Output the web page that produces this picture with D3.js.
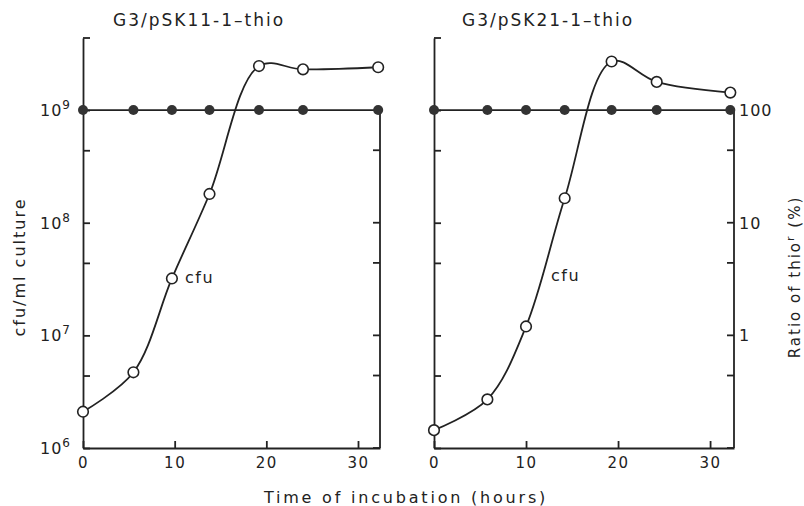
<!DOCTYPE html>
<html>
<head>
<meta charset="utf-8">
<script src="https://cdn.jsdelivr.net/npm/d3@7"></script>
<style>
  body { margin: 0; background: #fff; }
  text { font-family: "DejaVu Sans", sans-serif; fill: #222; }
</style>
</head>
<body>
<div id="chart"></div>
<script>
// data
var titles = ["G3/pSK11-1\u2013thio", "G3/pSK21-1\u2013thio"];

var hoursA = [0, 5.5, 9.7, 13.8, 19.2, 24.0, 32.2];
var cfuA = [2.1e6, 4.7e6, 3.2e7, 1.8e8, 2.46e9, 2.3e9, 2.4e9];
var ratioA = [100, 100, 100, 100, 100, 100, 100];

var hoursB = [0, 5.8, 10.0, 14.2, 19.3, 24.2, 32.2];
var cfuB = [1.44e6, 2.7e6, 1.2e7, 1.65e8, 2.7e9, 1.78e9, 1.43e9];
var ratioB = [100, 100, 100, 100, 100, 100, 100];

var xTicks = [0, 10, 20, 30];
var cfuMajor = [1e6, 1e7, 1e8, 1e9];
var cfuMinor = [4.4e6, 4.4e7, 4.4e8];
var ratioMajor = [1, 10, 100];

var svgWidth = 804, svgHeight = 506;
var ink = "#222";

var svg = d3.select("#chart").append("svg")
  .attr("width", svgWidth)
  .attr("height", svgHeight);

var yTop = 38, yBottom = 448;
var cfuMax = Math.pow(10, 9.64);

var panels = [
  {title: titles[0], hours: hoursA, cfu: cfuA, ratio: ratioA, x0: 83, x1: 380, xmax: 32.4, tx: 199, cfuLab: [185, 283]},
  {title: titles[1], hours: hoursB, cfu: cfuB, ratio: ratioB, x0: 434, x1: 734, xmax: 32.6, tx: 548, cfuLab: [551, 281]}
];

var yScale = d3.scaleLog().domain([1e6, cfuMax]).range([yBottom, yTop]);
// ratio axis: 100 % sits on the 1e9 line
var yRatio = d3.scaleLog().domain([0.1, cfuMax / 1e7]).range([yBottom, yTop]);

panels.forEach(function(p, i) {
  var xScale = d3.scaleLinear().domain([0, p.xmax]).range([p.x0, p.x1]);
  var g = svg.append("g");

  // x axis
  var xAxis = d3.axisBottom(xScale)
    .tickValues(xTicks)
    .tickSizeInner(-7)
    .tickSizeOuter(0)
    .tickPadding(9)
    .tickFormat(d3.format("d"));
  var xg = g.append("g")
    .attr("transform", "translate(0," + yBottom + ")")
    .call(xAxis);
  xg.selectAll("text").attr("font-size", 15).attr("letter-spacing", 1.5);

  // left axis, full height
  var allTicks = cfuMajor.concat(cfuMinor);
  g.append("g")
    .attr("transform", "translate(" + p.x0 + ",0)")
    .call(d3.axisLeft(yScale).tickValues(allTicks).tickSizeInner(-7).tickSizeOuter(0).tickFormat(""));
  // top cap
  g.append("line")
    .attr("x1", p.x0).attr("x2", p.x0 + 7)
    .attr("y1", yScale(cfuMax)).attr("y2", yScale(cfuMax))
    .attr("stroke", ink).attr("stroke-width", 1.8);

  // right axis, from the 1e9 line down
  var yr = g.append("g")
    .attr("transform", "translate(" + p.x1 + ",0)");
  yr.append("line")
    .attr("x1", 0).attr("x2", 0)
    .attr("y1", yScale(1e9)).attr("y2", yBottom)
    .attr("stroke", ink).attr("stroke-width", 1.8);
  yr.selectAll("line.tk")
    .data(allTicks.filter(function(d) { return d < 1e9; }))
    .enter().append("line")
    .attr("class", "tk")
    .attr("x1", -7).attr("x2", 0)
    .attr("y1", function(d) { return yScale(d); })
    .attr("y2", function(d) { return yScale(d); })
    .attr("stroke", ink).attr("stroke-width", 1.8);

  g.selectAll(".domain, .tick line").attr("stroke", ink).attr("stroke-width", 1.8);

  if (i === 0) {
    // 10^n labels
    cfuMajor.forEach(function(v) {
      var t = g.append("text")
        .attr("x", p.x0 - 12)
        .attr("y", yScale(v) + 6)
        .attr("text-anchor", "end")
        .attr("font-size", 16)
        .attr("letter-spacing", 1);
      t.append("tspan").text("10");
      t.append("tspan").attr("dy", -7).attr("font-size", 12).text(Math.round(Math.log10(v)));
    });
  } else {
    ratioMajor.forEach(function(v) {
      g.append("text")
        .attr("x", p.x1 + 5)
        .attr("y", yRatio(v) + 6)
        .attr("font-size", 16)
        .attr("letter-spacing", 1)
        .text(v);
    });
  }

  // title
  g.append("text")
    .attr("x", p.tx).attr("y", 26)
    .attr("text-anchor", "middle")
    .attr("font-size", 17)
    .attr("letter-spacing", 2)
    .text(p.title);

  var pts = p.hours.map(function(h, k) { return {h: h, c: p.cfu[k], r: p.ratio[k]}; });

  // ratio line (filled)
  var ratioLine = d3.line()
    .x(function(d) { return xScale(d.h); })
    .y(function(d) { return yRatio(d.r); });
  g.append("path")
    .datum(pts)
    .attr("d", ratioLine)
    .attr("fill", "none").attr("stroke", ink).attr("stroke-width", 1.8);

  // cfu curve (open)
  var cfuLine = d3.line()
    .x(function(d) { return xScale(d.h); })
    .y(function(d) { return yScale(d.c); })
    .curve(d3.curveCatmullRom.alpha(0.5));
  g.append("path")
    .datum(pts)
    .attr("d", cfuLine)
    .attr("fill", "none").attr("stroke", ink).attr("stroke-width", 1.8);

  g.selectAll("circle.ratio")
    .data(pts)
    .enter().append("circle")
    .attr("class", "ratio")
    .attr("cx", function(d) { return xScale(d.h); })
    .attr("cy", function(d) { return yRatio(d.r); })
    .attr("r", 5)
    .attr("fill", "#333");

  g.selectAll("circle.cfu")
    .data(pts)
    .enter().append("circle")
    .attr("class", "cfu")
    .attr("cx", function(d) { return xScale(d.h); })
    .attr("cy", function(d) { return yScale(d.c); })
    .attr("r", 5.3)
    .attr("fill", "#fff")
    .attr("stroke", ink)
    .attr("stroke-width", 1.6);

  g.append("text")
    .attr("x", p.cfuLab[0]).attr("y", p.cfuLab[1])
    .attr("font-size", 16)
    .attr("letter-spacing", 1.5)
    .text("cfu");
});

// axis titles
svg.append("text")
  .attr("x", 406).attr("y", 503)
  .attr("text-anchor", "middle")
  .attr("font-size", 16)
  .attr("letter-spacing", 2.8)
  .text("Time of incubation (hours)");

svg.append("text")
  .attr("transform", "translate(25,267) rotate(-90)")
  .attr("text-anchor", "middle")
  .attr("font-size", 16)
  .attr("letter-spacing", 2)
  .text("cfu/ml culture");

var rl = svg.append("text")
  .attr("transform", "translate(800,277) rotate(-90)")
  .attr("text-anchor", "middle")
  .attr("font-size", 15)
  .attr("letter-spacing", 2);
rl.append("tspan").text("Ratio of thio");
rl.append("tspan").attr("dy", -6).attr("font-size", 11).text("r");
rl.append("tspan").attr("dy", 6).text(" (%)");
</script>
</body>
</html>
